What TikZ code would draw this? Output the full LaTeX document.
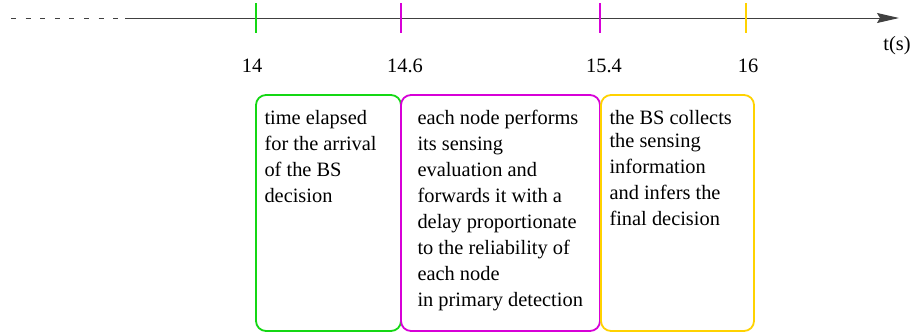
\documentclass[tikz,border=0pt]{standalone}
\usepackage{fontspec}
\setmainfont{Liberation Serif}
\usetikzlibrary{arrows.meta}

\definecolor{slotgreen}{RGB}{20,215,20}
\definecolor{slotmagenta}{RGB}{215,0,215}
\definecolor{slotyellow}{RGB}{255,210,0}

\begin{document}
\begin{tikzpicture}[x=0.5pt, y=-0.5pt, line width=0.5pt,
  every node/.style={font=\fontsize{10.2}{13}\selectfont, inner sep=0pt},
  slot/.style={line width=0.9pt, rounded corners=5pt},
  mark line/.style={line width=0.65pt},
  stamp/.style={anchor=base},
  note/.style={anchor=base west, align=left}]

\useasboundingbox (0,0) rectangle (913,333);

% time axis
\coordinate (past) at (11,18);
\coordinate (start) at (125,18);
\coordinate (end) at (899,18);
\draw [black!75, dash pattern=on 2.5pt off 4.8pt] (past)--(start);
\draw [black!75, -{Stealth[length=11pt,width=5pt,inset=1.5pt]}] (start)--(end);
\node [stamp] (tunit) at (897,50) {t(s)};

\draw [mark line, slotgreen] (256,3)--(256,33);
\draw [mark line, slotmagenta] (401,3)--(401,33);
\draw [mark line, slotmagenta] (600,3)--(600,33);
\draw [mark line, slotyellow] (746,3)--(746,33);

\node [stamp] (t140) at (252,72) {14};
\node [stamp] (t146) at (405,72) {14.6};
\node [stamp] (t154) at (604,72) {15.4};
\node [stamp] (t160) at (748,72) {16};

% phases (base = last line)
\draw [slot, slotgreen] (256,95) rectangle (401,331);
\draw [slot, slotmagenta] (401,95) rectangle (600,331);
\draw [slot, slotyellow] (601,95) rectangle (754,331);

\node [note] (wait) at (264,202) {time elapsed\\for the arrival\\of the BS\\decision};
\node [note] (sense) at (417,306) {each node performs\\its sensing\\evaluation and\\forwards it with a\\delay proportionate\\to the reliability of\\each node\\in primary detection};
\node [note] (fuse) at (609,225.6) {the BS collects\\[-1.2pt]the sensing\\information\\and infers the\\final decision};

\end{tikzpicture}
\end{document}
